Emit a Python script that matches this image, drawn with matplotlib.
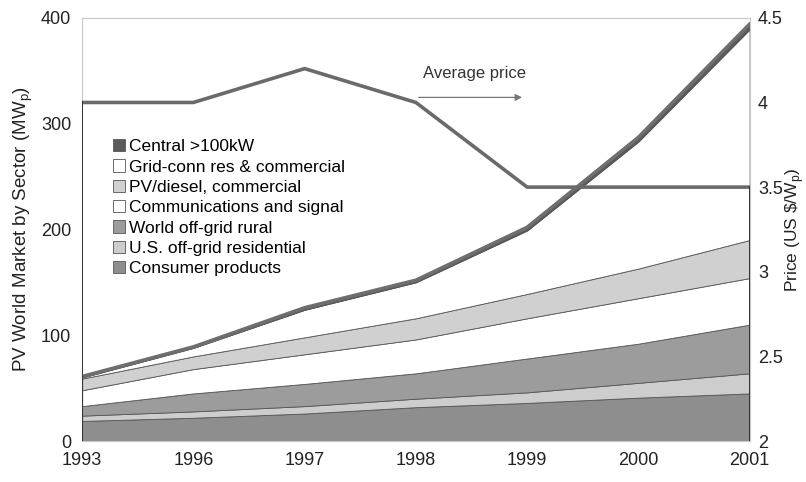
import numpy as np
import matplotlib
matplotlib.use("Agg")
import matplotlib.pyplot as plt
from matplotlib.patches import Patch

plt.rcParams["font.family"] = ["Liberation Sans", "DejaVu Sans"]

years = ["1993", "1996", "1997", "1998", "1999", "2000", "2001"]

# sector values (MWp), bottom of the stack first
consumer = [19, 22, 26, 32, 36, 41, 45]
us_offgrid = [5, 6, 7, 8, 10, 14, 19]
world_offgrid = [9, 17, 21, 24, 32, 37, 46]
communications = [15, 23, 28, 32, 38, 43, 44]
pv_diesel = [11, 12, 16, 20, 23, 28, 36]
grid_conn = [1, 8, 26, 34, 60, 120, 199]
central = [1, 1, 2, 2, 3, 4, 5]

# average price (US $/Wp)
price = [4.0, 4.0, 4.2, 4.0, 3.5, 3.5, 3.5]

labels = ["Consumer products", "U.S. off-grid residential", "World off-grid rural",
          "Communications and signal", "PV/diesel, commercial",
          "Grid-conn res & commercial", "Central >100kW"]
colors = ["#8e8e8e", "#cdcdcd", "#9c9c9c", "#ffffff", "#d0d0d0", "#ffffff", "#5a5a5a"]

series = [consumer, us_offgrid, world_offgrid, communications, pv_diesel, grid_conn, central]
x = np.arange(len(years))

fig = plt.figure(figsize=(8.06, 4.82), dpi=100)
ax = fig.add_axes([0.102, 0.085, 0.828, 0.878])

ax.stackplot(x, series, colors=colors, edgecolor="#555555", linewidth=0.6)
total = np.sum(series, axis=0)
ax.plot(x, total, color="#6e6e6e", lw=2.6)

ax.set_xlim(0, len(years) - 1)
ax.set_ylim(0, 400)
ax.set_yticks([0, 100, 200, 300, 400])
ax.set_xticks(x)
ax.set_xticklabels(years)
ax.tick_params(length=0, labelsize=13, colors="#222222")
ax.tick_params(axis="x", pad=8)
ax.tick_params(axis="y", pad=8)
for s in ax.spines.values():
    s.set_color("#c8c8c8")
    s.set_linewidth(0.8)
ax.set_ylabel(r"PV World Market by Sector (MW$_\mathregular{p}$)", fontsize=13.5,
              color="#222222", labelpad=4)

ax2 = ax.twinx()
ax2.plot(x, price, color="#6a6a6a", lw=2.6)
ax2.plot([x[0], x[0]], [2, price[0]], color="#333333", lw=1.4)
ax2.plot([x[-1], x[-1]], [2, price[-1]], color="#333333", lw=1.4)
ax2.set_ylim(2, 4.5)
ax2.set_yticks([2, 2.5, 3, 3.5, 4, 4.5])
ax2.set_yticklabels(["2", "2.5", "3", "3.5", "4", "4.5"])
ax2.tick_params(length=0, labelsize=13, colors="#222222", pad=6)
for s in ax2.spines.values():
    s.set_visible(False)
ax2.set_ylabel(r"Price (US \$/W$_\mathregular{p}$)", fontsize=12.5, color="#222222",
               labelpad=0)

ax2.annotate("", xy=(3.98, 4.03), xytext=(3.0, 4.03),
             arrowprops=dict(arrowstyle="-|>", color="#777777", lw=0.9,
                             mutation_scale=10))
ax2.text(3.53, 4.17, "Average price", ha="center", va="center", fontsize=12,
         color="#333333")

handles = [Patch(facecolor=c, edgecolor="#555555", linewidth=0.6)
           for c in colors][::-1]
leg = ax.legend(handles, labels[::-1], loc="upper left", bbox_to_anchor=(0.035, 0.73),
                frameon=False, fontsize=12.5, handlelength=0.7, handleheight=0.7,
                handletextpad=0.25, labelspacing=0.3, borderaxespad=0)

fig.savefig("out.png", dpi=100)
